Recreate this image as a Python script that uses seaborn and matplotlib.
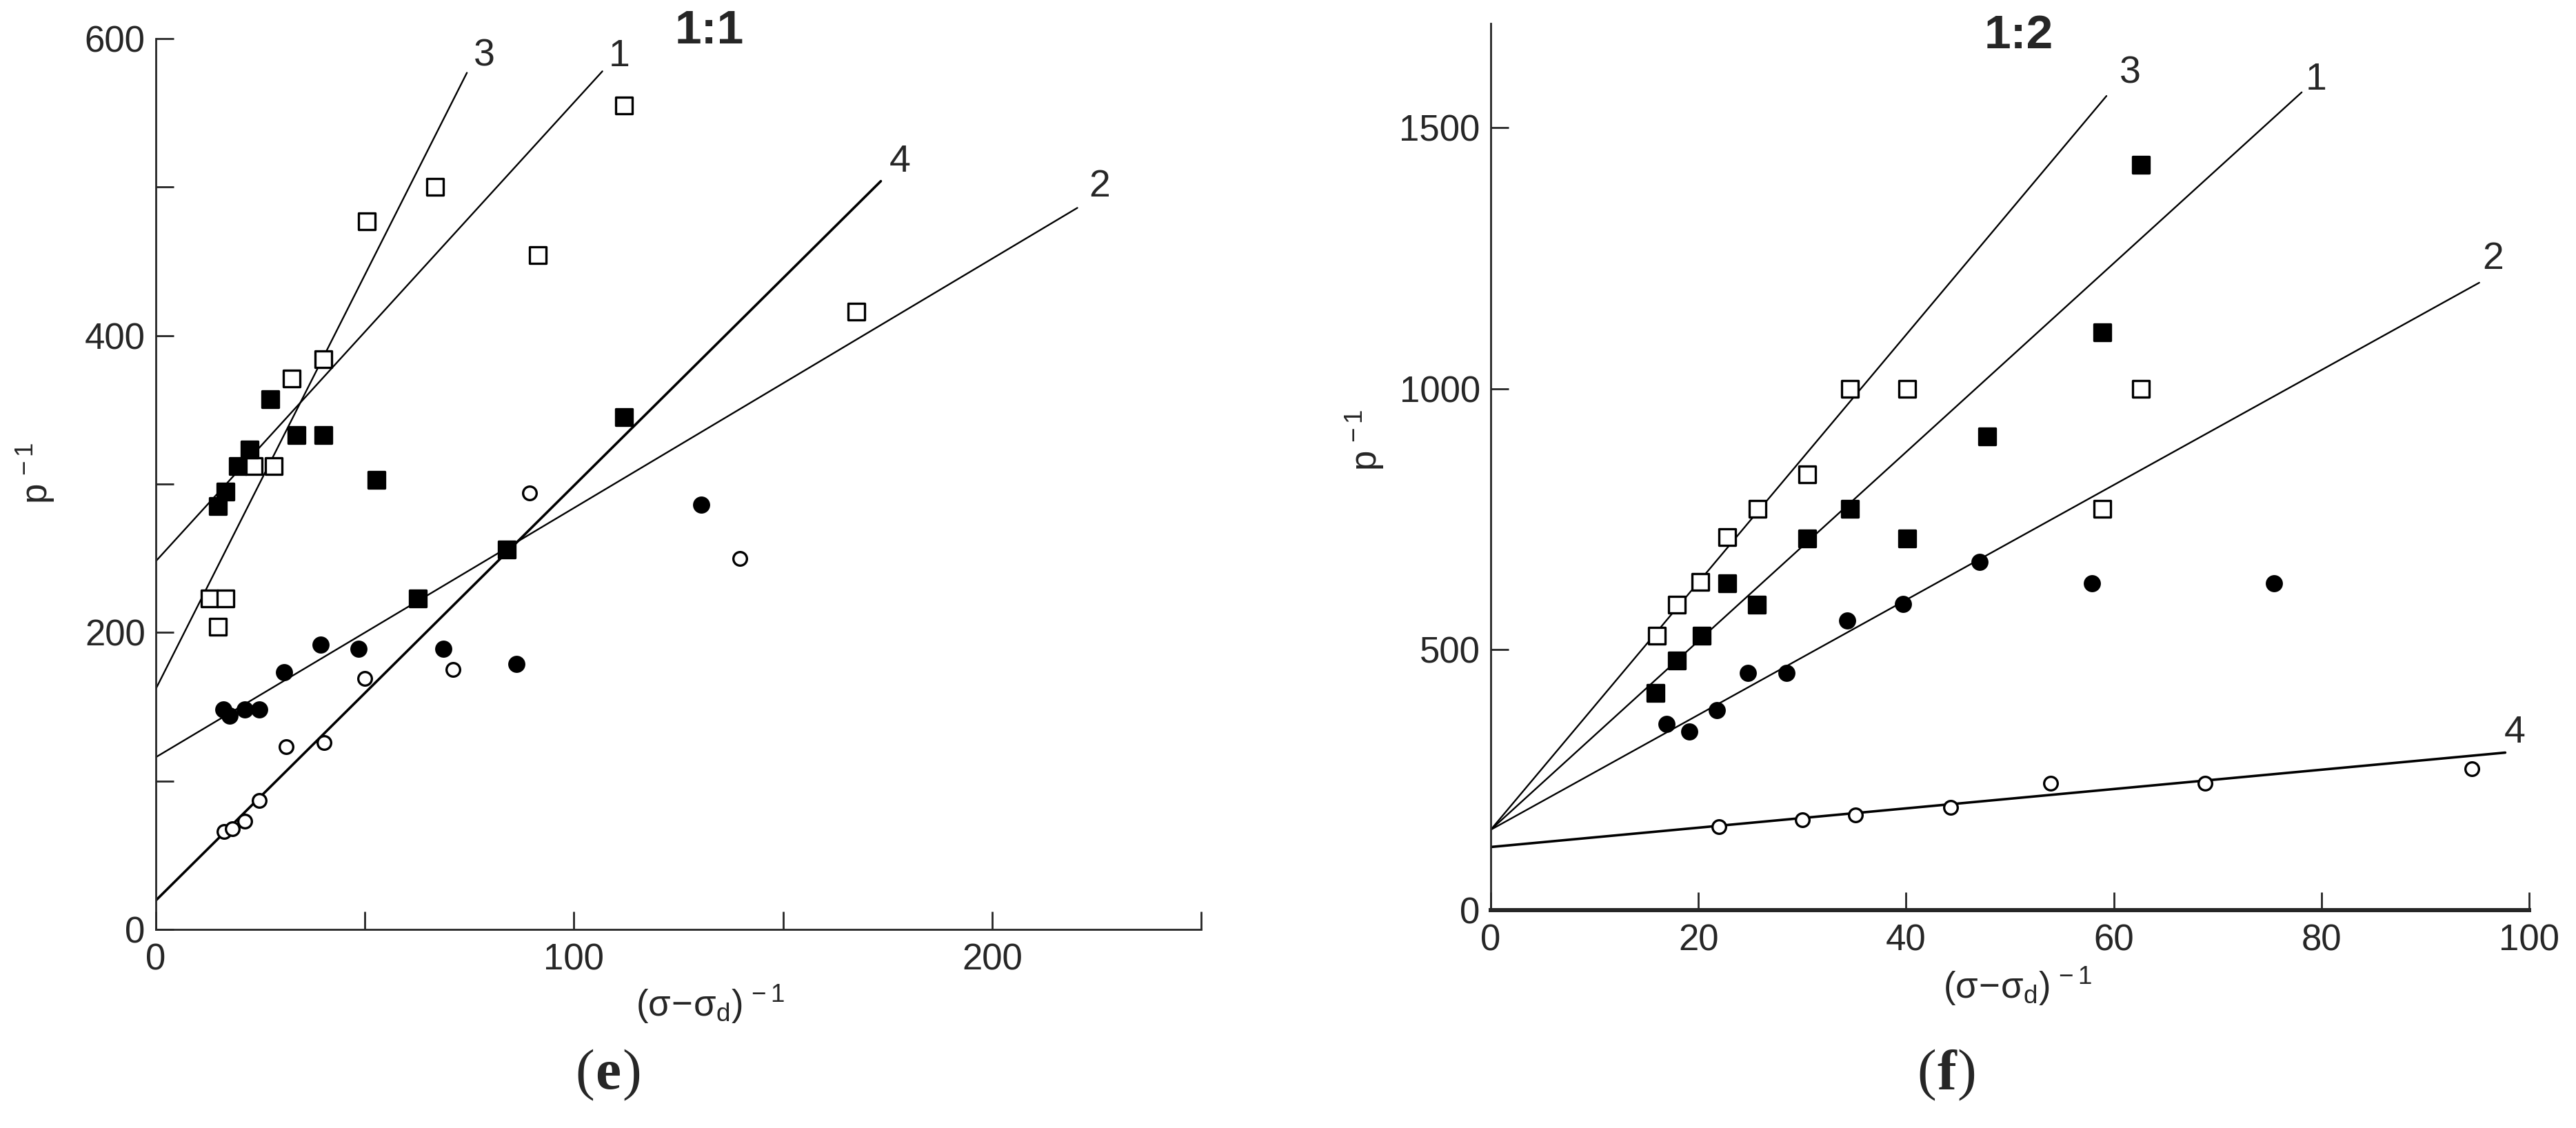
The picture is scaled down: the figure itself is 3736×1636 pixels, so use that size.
# p^-1 vs (sigma - sigma_d)^-1, panels (e) 1:1 and (f) 1:2
import pandas as pd
import matplotlib
matplotlib.use("Agg")
import matplotlib.pyplot as plt
import seaborn as sns

# ---- data ----
# panel (e), ratio 1:1
e_open_sq_x = [12.9, 16.7, 14.8, 23.4, 28.2, 32.5, 40.0, 50.4, 66.8, 91.3, 111.9, 167.5]
e_open_sq_y = [223, 223, 204, 312, 312, 371, 384, 477, 500, 454, 555, 416]
e_fill_sq_x = [14.8, 16.6, 19.6, 22.5, 27.4, 33.7, 40.0, 52.7, 62.6, 83.9, 111.9]
e_fill_sq_y = [285, 295, 312, 323, 357, 333, 333, 303, 223, 256, 345]
e_fill_ci_x = [16.2, 17.7, 21.3, 24.7, 30.6, 39.4, 48.5, 68.7, 86.2, 130.4]
e_fill_ci_y = [148, 144, 148, 148, 173, 192, 189, 189, 179, 286]
e_open_ci_x = [16.4, 18.3, 21.3, 24.7, 31.2, 40.2, 50.0, 71.0, 89.4, 139.7]
e_open_ci_y = [66, 68, 73, 87, 123, 126, 169, 175, 294, 250]

e_line_names = ["3", "1", "4", "2"]
e_line_x0 = [0, 0, 0, 0]
e_line_y0 = [162, 248, 19.5, 116]
e_line_x1 = [74.4, 106.8, 173.4, 220.4]
e_line_y1 = [577, 578, 504, 486]
e_label_x = [78.6, 110.9, 178.0, 225.7]
e_label_y = [588, 588, 517, 500]

# panel (f), ratio 1:2
f_open_sq_x = [16.0, 17.9, 20.2, 22.8, 25.7, 30.5, 34.6, 40.1, 58.9, 62.6]
f_open_sq_y = [526, 585, 629, 715, 770, 835, 1000, 1000, 770, 1000]
f_fill_sq_x = [15.9, 17.9, 20.3, 22.8, 25.6, 30.5, 34.6, 40.1, 47.8, 58.9, 62.6]
f_fill_sq_y = [417, 479, 526, 627, 585, 713, 770, 713, 908, 1108, 1429]
f_fill_ci_x = [16.9, 19.1, 21.8, 24.8, 28.5, 34.3, 39.7, 47.1, 57.9, 75.4]
f_fill_ci_y = [357, 343, 384, 455, 455, 555, 587, 667, 627, 627]
f_open_ci_x = [22.0, 30.0, 35.1, 44.3, 53.9, 68.8, 94.5]
f_open_ci_y = [160, 173, 183, 197, 243, 243, 271]

f_line_names = ["3", "1", "2", "4"]
f_line_x0 = [0, 0, 0, 0]
f_line_y0 = [154, 154, 154, 121]
f_line_x1 = [59.3, 78.1, 95.2, 97.7]
f_line_y1 = [1561, 1568, 1203, 302]
f_label_x = [61.6, 79.5, 96.5, 98.6]
f_label_y = [1604, 1592, 1248, 340]

sns.set_style("ticks")
plt.rcParams["font.family"] = ["Liberation Sans", "DejaVu Sans"]
plt.rcParams["mathtext.fontset"] = "custom"
plt.rcParams["mathtext.rm"] = "Liberation Sans"
plt.rcParams["mathtext.it"] = "Liberation Sans"
plt.rcParams["mathtext.bf"] = "Liberation Sans:bold"

W, H = 3736, 1636
fig = plt.figure(figsize=(W / 100, H / 100), dpi=100)


def px_axes(left, top, right, bottom):
    return fig.add_axes([left / W, 1 - bottom / H, (right - left) / W, (bottom - top) / H])


def draw_panel(ax, sets, names, x0, y0, x1, y1, lx, ly, thick):
    # the fitted straight lines
    for i, name in enumerate(names):
        seg = pd.DataFrame({"x": [x0[i], x1[i]], "y": [y0[i], y1[i]]})
        lw = 2.6 if name == thick else 1.7
        sns.lineplot(data=seg, x="x", y="y", ax=ax, color="black", lw=lw,
                     estimator=None, sort=False)
        ax.text(lx[i], ly[i], name, fontsize=40, ha="center", va="center")
    # the measured points
    for xs, ys, marker, face, size in sets:
        pts = pd.DataFrame({"x": xs, "y": ys})
        sns.scatterplot(data=pts, x="x", y="y", ax=ax, marker=marker, s=size,
                        facecolor=face, edgecolor="black", linewidth=2.4,
                        zorder=5, clip_on=False)
    sns.despine(ax=ax)
    ax.set_xlabel("")
    ax.set_ylabel("")
    ax.tick_params(direction="in", length=19, width=2, labelsize=38)
    ax.tick_params(axis="x", pad=14)
    ax.tick_params(axis="y", pad=11)
    for sp in ["left", "bottom"]:
        ax.spines[sp].set_linewidth(2)


# ---- panel (e) ----
ax1 = px_axes(226, 56, 1742, 1348)
draw_panel(ax1,
           [(e_open_sq_x, e_open_sq_y, "s", "white", 290),
            (e_fill_sq_x, e_fill_sq_y, "s", "black", 290),
            (e_fill_ci_x, e_fill_ci_y, "o", "black", 240),
            (e_open_ci_x, e_open_ci_y, "o", "white", 200)],
           e_line_names, e_line_x0, e_line_y0, e_line_x1, e_line_y1,
           e_label_x, e_label_y, "4")
ax1.set_xlim(0, 250)
ax1.set_ylim(0, 600)
ax1.set_xticks([0, 50, 100, 150, 200, 250])
ax1.set_xticklabels(["0", "", "100", "", "200", ""])
ax1.set_yticks([0, 100, 200, 300, 400, 500, 600])
ax1.set_yticklabels(["0", "", "200", "", "400", "", "600"])

# ---- panel (f) ----
ax2 = px_axes(2162, 34, 3668, 1320)
draw_panel(ax2,
           [(f_open_sq_x, f_open_sq_y, "s", "white", 290),
            (f_fill_sq_x, f_fill_sq_y, "s", "black", 290),
            (f_fill_ci_x, f_fill_ci_y, "o", "black", 240),
            (f_open_ci_x, f_open_ci_y, "o", "white", 200)],
           f_line_names, f_line_x0, f_line_y0, f_line_x1, f_line_y1,
           f_label_x, f_label_y, "4")
ax2.set_xlim(0, 100)
ax2.set_ylim(0, 1700)
ax2.set_xticks([0, 20, 40, 60, 80, 100])
ax2.set_yticks([0, 500, 1000, 1500])
ax2.spines["bottom"].set_linewidth(4.3)

# ---- figure texts ----
def ftext(x, y, s, **kw):
    kw.setdefault("ha", "center")
    fig.text(x / W, 1 - y / H, s, va="center", **kw)


xlab = r"$(\sigma\!-\!\sigma_{\mathrm{d}})^{\,-1}$"
ylab = r"$\mathrm{p}^{\,-1}$"
ftext(1030, 1457, xlab, fontsize=38)
ftext(2926, 1431, xlab, fontsize=38)
ftext(52, 686, ylab, fontsize=38, rotation=90)
ftext(1980, 638, ylab, fontsize=38, rotation=90)
ftext(1029, 45, "1:1", fontsize=50, fontweight="bold")
ftext(2928, 52, "1:2", fontsize=50, fontweight="bold")

# panel letters: "(" + bold letter + ")" in a serif face
serif = ["Liberation Serif", "DejaVu Serif"]
for cx, letter, half in [(882, "e", 20), (2823, "f", 15)]:
    ftext(cx - half, 1560, "(", family=serif, fontsize=60, ha="right")
    ftext(cx, 1560, letter, family=serif, fontsize=60, fontweight="bold")
    ftext(cx + half, 1560, ")", family=serif, fontsize=60, ha="left")

plt.savefig("out.png", dpi=100, facecolor="white")
